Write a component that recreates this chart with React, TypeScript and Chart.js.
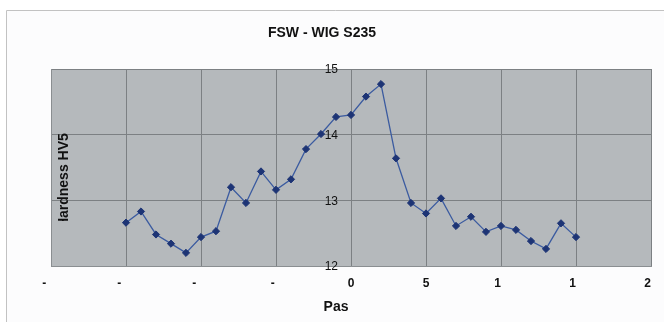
import React, { useEffect, useRef } from "react";
import { Chart, registerables } from "chart.js";

Chart.register(...registerables);

const chartTitle = "FSW - WIG S235";
const xAxisTitle = "Pas";
const yAxisTitle = "Hardness HV5";

const positions = [-15, -14, -13, -12, -11, -10, -9, -8, -7, -6, -5, -4, -3, -2, -1, 0, 1, 2, 3, 4, 5, 6, 7, 8, 9, 10, 11, 12, 13, 14, 15];
const hardness = [12.66, 12.83, 12.48, 12.34, 12.2, 12.44, 12.53, 13.2, 12.96, 13.44, 13.16, 13.32, 13.78, 14.01, 14.27, 14.3, 14.58, 14.77, 13.64, 12.96, 12.8, 13.03, 12.61, 12.75, 12.52, 12.61, 12.55, 12.38, 12.26, 12.65, 12.44];

const xTickValues = [-20, -15, -10, -5, 0, 5, 10, 15, 20];
const xTickLabels = ["-20", "-15", "-10", "-5", "0", "5", "10", "15", "20"];
const yTickValues = [12, 13, 14, 15];
const yTickLabels = ["12", "13", "14", "15"];

const FONT = "'Liberation Sans', Arial, sans-serif";

const decorPlugin = {
  id: "decor",
  beforeDraw(chart: any) {
    const { ctx, chartArea } = chart;
    ctx.save();
    ctx.fillStyle = "#ffffff";
    ctx.fillRect(0, 0, chart.width, chart.height);
    ctx.fillStyle = "#fcfcfd";
    ctx.fillRect(7, 10, chart.width - 7, chart.height - 10);
    ctx.strokeStyle = "#c2c2c2";
    ctx.lineWidth = 1;
    ctx.beginPath();
    ctx.moveTo(6.5, chart.height);
    ctx.lineTo(6.5, 10.5);
    ctx.lineTo(chart.width, 10.5);
    ctx.stroke();
    ctx.fillStyle = "#b5b9bc";
    ctx.fillRect(chartArea.left, chartArea.top, chartArea.right - chartArea.left, chartArea.bottom - chartArea.top);
    ctx.restore();
  },
  afterDatasetsDraw(chart: any) {
    const { ctx, chartArea, scales } = chart;
    const xs = scales.x;
    const ys = scales.y;
    ctx.save();
    // title
    ctx.fillStyle = "#111111";
    ctx.font = `bold 14px ${FONT}`;
    ctx.textAlign = "center";
    ctx.textBaseline = "middle";
    ctx.fillText(chartTitle, 322, 33);
    // x axis title
    ctx.fillText(xAxisTitle, 336, 307);
    // y tick labels at x = 0 line
    const x0 = xs.getPixelForValue(0);
    ctx.font = `12px ${FONT}`;
    ctx.textAlign = "right";
    yTickValues.forEach((v, i) => {
      ctx.fillText(yTickLabels[i], x0 - 13, ys.getPixelForValue(v) + 1);
    });
    // x tick labels: first character of each centred label
    ctx.font = `bold 12px ${FONT}`;
    ctx.textAlign = "left";
    xTickValues.forEach((v, i) => {
      const full = xTickLabels[i];
      const w = ctx.measureText(full).width;
      const px = xs.getPixelForValue(v);
      ctx.fillText(full.charAt(0), px - w / 2, 284);
    });
    // y axis title, rotated and clipped
    ctx.font = `bold 14px ${FONT}`;
    const hW = ctx.measureText(yAxisTitle.charAt(0)).width;
    ctx.beginPath();
    ctx.rect(chartArea.left, 0, 60, 221);
    ctx.clip();
    ctx.translate(64, 218 + hW);
    ctx.rotate(-Math.PI / 2);
    ctx.textAlign = "left";
    ctx.textBaseline = "middle";
    ctx.fillText(yAxisTitle, 0, 0);
    ctx.restore();
  },
};

export default function App() {
  const ref = useRef<HTMLCanvasElement | null>(null);
  useEffect(() => {
    document.body.style.margin = "0";
    const canvas = ref.current;
    if (!canvas) return;
    const chart = new Chart(canvas, {
      type: "line",
      data: {
        datasets: [
          {
            data: positions.map((x, i) => ({ x, y: hardness[i] })),
            borderColor: "#3b5ba0",
            borderWidth: 1.3,
            pointStyle: "rectRot",
            pointRadius: 3.6,
            pointBackgroundColor: "#1d3475",
            pointBorderColor: "#1d3475",
            pointBorderWidth: 1,
            tension: 0,
            fill: false,
          },
        ],
      },
      options: {
        animation: false,
        responsive: false,
        devicePixelRatio: 1,
        layout: { padding: { left: 51, right: 13, top: 69, bottom: 56 } },
        plugins: { legend: { display: false }, tooltip: { enabled: false }, title: { display: false } },
        scales: {
          x: {
            type: "linear",
            min: -20,
            max: 20,
            afterBuildTicks: (axis: any) => {
              axis.ticks = xTickValues.map((v) => ({ value: v }));
            },
            ticks: { display: false },
            grid: { color: "#7c8083", lineWidth: 1, drawTicks: false },
            border: { display: true, color: "#8a8e91", width: 1 },
          },
          y: {
            type: "linear",
            min: 12,
            max: 15,
            afterBuildTicks: (axis: any) => {
              axis.ticks = yTickValues.map((v) => ({ value: v }));
            },
            ticks: { display: false },
            grid: { color: "#7c8083", lineWidth: 1, drawTicks: false },
            border: { display: true, color: "#8a8e91", width: 1 },
          },
        },
      },
      plugins: [decorPlugin],
    });
    return () => chart.destroy();
  }, []);
  return (
    <div style={{ width: 664, height: 322 }}>
      <canvas ref={ref} width={664} height={322} style={{ display: "block" }} />
    </div>
  );
}
